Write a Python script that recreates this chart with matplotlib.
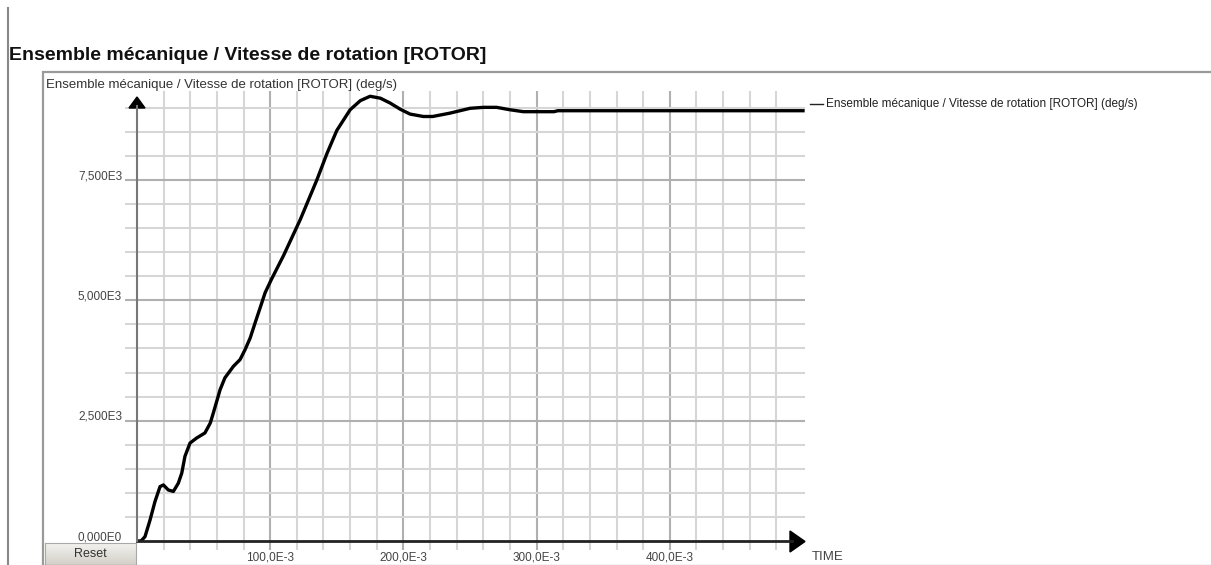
import numpy as np
import matplotlib.pyplot as plt
from matplotlib.patches import Polygon, Rectangle
from matplotlib.lines import Line2D

# data (time in ms, speed in deg/s)
time_ms = [0, 3, 6, 9.8, 13.5, 17.3, 19.8, 23.5, 27.3, 31, 33.6, 36, 39.8, 44.8,
           51, 55, 57.3, 62.4, 66, 72.4, 77.4, 81.2, 85, 88.7, 92.5, 96.2, 101,
           110, 122.6, 135, 142.6, 150, 160, 167.7, 175, 182.7, 190, 197.7, 205,
           215, 222, 235, 250, 260, 270, 280, 290, 300, 313, 316, 340, 400, 500]
speed = [0, 0, 90, 437, 820, 1130, 1165, 1060, 1030, 1200, 1410, 1760, 2035, 2140,
         2245, 2450, 2660, 3145, 3390, 3630, 3770, 3980, 4220, 4535, 4850, 5160, 5440,
         5930, 6680, 7500, 8050, 8530, 8960, 9150, 9240, 9200, 9100, 8970, 8870,
         8820, 8820, 8890, 8990, 9010, 9010, 8960, 8920, 8920, 8920, 8940, 8940, 8940, 8940]

y_ticks = [0, 2500, 5000, 7500]
y_labels = ["0,000E0", "2,500E3", "5,000E3", "7,500E3"]
x_ticks = [100, 200, 300, 400]
x_labels = ["100,0E-3", "200,0E-3", "300,0E-3", "400,0E-3"]

title = "Ensemble mécanique / Vitesse de rotation [ROTOR]"
series_name = "Ensemble mécanique / Vitesse de rotation [ROTOR] (deg/s)"

W, H = 1211, 565
plt.rcParams['font.family'] = ['Liberation Sans', 'DejaVu Sans']

fig = plt.figure(figsize=(W / 100, H / 100), dpi=100)


def fx(px):
    return px / W


def fy(py):
    return 1 - py / H


# axes placement (pixel geometry of the reference)
x0, x1 = 137, 805
y0, y1 = 541, 91
px_per_ms = 1.332
px_per_unit = 0.04813
ax = fig.add_axes([fx(x0), fy(y0), (x1 - x0) / W, (y0 - y1) / H])
ax.set_xlim(0, (x1 - x0) / px_per_ms)
ax.set_ylim(0, (y0 - y1) / px_per_unit)
ax.patch.set_alpha(0)
for s in ax.spines.values():
    s.set_visible(False)

minor_col, major_col = '#d6d6d6', '#b0b0b0'
ax.set_xticks(x_ticks)
ax.set_xticks([v for v in range(20, 481, 20) if v % 100], minor=True)
ax.set_yticks(y_ticks[1:])
ax.set_yticks([v for v in range(500, 9001, 500) if v % 2500], minor=True)
ax.grid(which='major', color=major_col, lw=1.5)
ax.grid(which='minor', color=minor_col, lw=1.5)
ax.tick_params(axis='x', which='both', direction='out', length=6.5, width=1.5,
               labelbottom=False)
ax.tick_params(axis='y', which='both', direction='out', length=8.5, width=1.5,
               labelleft=False)
ax.tick_params(which='major', color=major_col)
ax.tick_params(which='minor', color=minor_col)
ax.set_axisbelow(True)

ax.plot(time_ms, speed, color='black', lw=2.4, solid_joinstyle='round', zorder=5)

# tick labels as text
for v, lab in zip(y_ticks, y_labels):
    ax.annotate(lab, xy=(0, v), xycoords=('axes fraction', 'data'),
                xytext=(-15, 4), textcoords='offset pixels', ha='right', va='center',
                fontsize=8.5, color='#444444')
for v, lab in zip(x_ticks, x_labels):
    ax.annotate(lab, xy=(v, 0), xycoords=('data', 'axes fraction'),
                xytext=(0, -16), textcoords='offset pixels', ha='center', va='center',
                fontsize=8.5, color='#444444')

# axis lines with arrowheads (figure pixel coordinates)
fig.add_artist(Line2D([fx(x0), fx(792)], [fy(y0), fy(y0)], color='#222222', lw=2.0,
                      transform=fig.transFigure))
fig.add_artist(Line2D([fx(x0), fx(x0)], [fy(y0), fy(106)], color='#777777', lw=1.5,
                      transform=fig.transFigure))
fig.add_artist(Polygon([(fx(790), fy(531)), (fx(790), fy(552)), (fx(805), fy(541.5))],
                       closed=True, color='black', transform=fig.transFigure))
fig.add_artist(Polygon([(fx(129), fy(108)), (fx(145), fy(108)), (fx(137), fy(97))],
                       closed=True, color='black', transform=fig.transFigure))

# frame and decorations
fig.add_artist(Line2D([fx(8), fx(8)], [fy(8), fy(565)], color='#888888', lw=1.5,
                      transform=fig.transFigure))
fig.add_artist(Rectangle((fx(43), fy(566)), fx(1240 - 43), (566 - 72) / H, fill=False,
                         edgecolor='#9a9a9a', lw=1.6, transform=fig.transFigure))

fig.text(fx(9), fy(56), title, fontsize=14, fontweight='bold', color='#111111',
         va='center', ha='left')
fig.text(fx(46), fy(85), series_name, fontsize=9.5, color='#333333', va='center', ha='left')
fig.add_artist(Line2D([fx(810), fx(823)], [fy(104), fy(104)], color='#222222', lw=1.0,
                      transform=fig.transFigure))
fig.text(fx(826), fy(104), series_name, fontsize=8.5, color='#222222', va='center', ha='left')
fig.text(fx(812), fy(557), "TIME", fontsize=9.5, color='#444444', va='center', ha='left')

# reset button with a soft gradient
bax = fig.add_axes([fx(45), fy(565), (136 - 45) / W, (565 - 543) / H])
grad = np.linspace(0, 1, 50).reshape(-1, 1)
bax.imshow(grad, aspect='auto', cmap=plt.matplotlib.colors.LinearSegmentedColormap.from_list(
    'btn', ['#f3f2ee', '#d3d0c8']), extent=[0, 1, 0, 1])
bax.set_xticks([])
bax.set_yticks([])
for s in bax.spines.values():
    s.set_color('#a8a8a8')
bax.text(0.5, 0.5, "Reset", ha='center', va='center', fontsize=9, color='#333333')

fig.savefig("out.png", dpi=100)
